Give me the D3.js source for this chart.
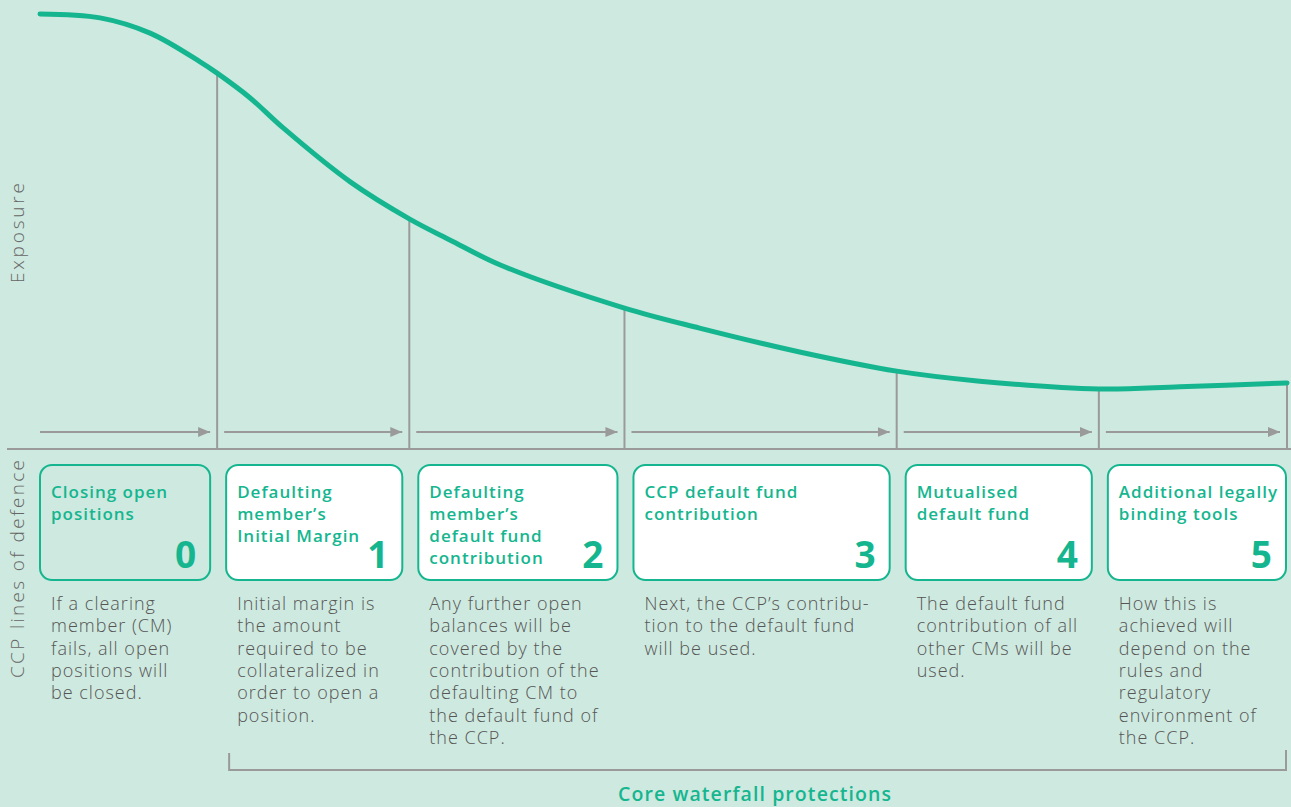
<!DOCTYPE html>
<html>
<head>
<meta charset="utf-8">
<script src="https://cdn.jsdelivr.net/npm/d3@7"></script>
<style>
  body { margin: 0; background: #cee9df; }
  svg { display: block; }
  text { font-family: "Open Sans", sans-serif; }
</style>
</head>
<body>
<svg id="chart" width="1291" height="807"></svg>
<script>
// exposure curve (time units, exposure %)
var curveT = [0, 6.0, 11.0, 16.0, 17.7, 21.0, 24.3, 31.0, 36.9, 41.0, 46.0, 58.4, 65.9, 75.9, 85.6, 93.9, 105.8, 113.9, 124.6];
var curveV = [100, 99.1, 95.6, 89.0, 86.4, 80.7, 73.8, 61.4, 52.9, 48.0, 42.3, 32.4, 27.8, 22.3, 17.9, 15.6, 13.8, 14.3, 15.2];

// each line of defence: start / end (time units) and the exposure at its end
var stageStart = [0, 17.7, 36.9, 58.4, 85.6, 105.8];
var stageEnd   = [17.7, 36.9, 58.4, 85.6, 105.8, 124.6];
var endExposure = [86.4, 52.9, 32.4, 17.9, 13.8, 15.2];

var stageNum = ['0', '1', '2', '3', '4', '5'];
var stageTitle = [
  ['Closing open', 'positions'],
  ['Defaulting', 'member\u2019s', 'Initial Margin'],
  ['Defaulting', 'member\u2019s', 'default fund', 'contribution'],
  ['CCP default fund', 'contribution'],
  ['Mutualised', 'default fund'],
  ['Additional legally', 'binding tools']
];
var stageText = [
  ['If a clearing', 'member (CM)', 'fails, all open', 'positions will', 'be closed.'],
  ['Initial margin is', 'the amount', 'required to be', 'collateralized in', 'order to open a', 'position.'],
  ['Any further open', 'balances will be', 'covered by the', 'contribution of the', 'defaulting CM to', 'the default fund of', 'the CCP.'],
  ['Next, the CCP\u2019s contribu-', 'tion to the default fund', 'will be used.'],
  ['The default fund', 'contribution of all', 'other CMs will be', 'used.'],
  ['How this is', 'achieved will', 'depend on the', 'rules and', 'regulatory', 'environment of', 'the CCP.']
];

var teal = '#15b68f', gray = '#9a9a9a';
var svg = d3.select('#chart');

var x = d3.scaleLinear().domain([0, 125]).range([40, 1291]);
var y = d3.scaleLinear().domain([0, 100]).range([449, 14]);

svg.append('defs').append('marker')
  .attr('id', 'arr').attr('viewBox', '0 0 12 10')
  .attr('refX', 12).attr('refY', 5)
  .attr('markerWidth', 12).attr('markerHeight', 10)
  .attr('markerUnits', 'userSpaceOnUse').attr('orient', 'auto')
  .append('path').attr('d', 'M0,0L12,5L0,10Z').attr('fill', gray);

// baseline
svg.append('line')
  .attr('x1', 7).attr('x2', 1291)
  .attr('y1', y(0)).attr('y2', y(0))
  .attr('stroke', gray).attr('stroke-width', 2);

// vertical drop lines
svg.selectAll('.drop').data(stageEnd).enter().append('line')
  .attr('class', 'drop')
  .attr('x1', function(d) { return x(d); })
  .attr('x2', function(d) { return x(d); })
  .attr('y1', function(d, i) { return y(endExposure[i]); })
  .attr('y2', y(0))
  .attr('stroke', gray).attr('stroke-width', 2);

// arrows
svg.selectAll('.arrow').data(stageStart).enter().append('line')
  .attr('class', 'arrow')
  .attr('x1', function(d, i) { return x(d) + (i ? 7 : 0); })
  .attr('x2', function(d, i) { return x(stageEnd[i]) - 7; })
  .attr('y1', 432).attr('y2', 432)
  .attr('stroke', gray).attr('stroke-width', 2)
  .attr('marker-end', 'url(#arr)');

// exposure curve
var line = d3.line()
  .x(function(d) { return x(d); })
  .y(function(d, i) { return y(curveV[i]); })
  .curve(d3.curveCatmullRom.alpha(0.5));
svg.append('path')
  .attr('d', line(curveT))
  .attr('fill', 'none').attr('stroke', teal)
  .attr('stroke-width', 5).attr('stroke-linecap', 'round');

// boxes
var boxTop = 465, boxH = 115;
function boxL(i) { return x(stageStart[i]) + (i ? 9 : 0); }
function boxW(i) { return x(stageEnd[i]) - (i == 5 ? 1 : 7) - boxL(i); }

var g = svg.selectAll('.stage').data(stageNum).enter().append('g')
  .attr('class', 'stage')
  .attr('transform', function(d, i) { return 'translate(' + boxL(i) + ',0)'; });

g.append('rect')
  .attr('x', 0).attr('y', boxTop)
  .attr('width', function(d, i) { return boxW(i); })
  .attr('height', boxH)
  .attr('rx', 12)
  .attr('fill', function(d, i) { return i ? '#fff' : 'none'; })
  .attr('stroke', teal).attr('stroke-width', 2);

g.each(function(d, i) {
  var t = d3.select(this).append('text')
    .attr('fill', teal).attr('font-size', 17).attr('font-weight', 600)
    .attr('letter-spacing', 1.0);
  stageTitle[i].forEach(function(s, k) {
    t.append('tspan').attr('x', 11).attr('y', 498 + k * 22).text(s);
  });
  var b = d3.select(this).append('text')
    .attr('fill', '#555').attr('font-size', 18).attr('font-weight', 300)
    .attr('letter-spacing', 1.0);
  stageText[i].forEach(function(s, k) {
    b.append('tspan').attr('x', 11).attr('y', 610 + k * 22.3).text(s);
  });
});

g.append('text')
  .attr('x', function(d, i) { return boxW(i) - 14; })
  .attr('y', 568)
  .attr('text-anchor', 'end')
  .attr('fill', teal).attr('font-size', 37).attr('font-weight', 700)
  .text(function(d) { return d; });

// axis labels
svg.append('text')
  .attr('transform', 'translate(24,283) rotate(-90)')
  .attr('textLength', 100).attr('lengthAdjust', 'spacing')
  .attr('fill', '#666').attr('font-size', 19).attr('font-weight', 300)
  .text('Exposure');
svg.append('text')
  .attr('transform', 'translate(24,678) rotate(-90)')
  .attr('textLength', 218).attr('lengthAdjust', 'spacing')
  .attr('fill', '#666').attr('font-size', 19).attr('font-weight', 300)
  .text('CCP lines of defence');

// core waterfall bracket
var bl = x(stageStart[1]) + 12, br = x(stageEnd[5]) - 1;
svg.append('path')
  .attr('d', 'M' + bl + ',753V770H' + br + 'V750')
  .attr('fill', 'none').attr('stroke', gray).attr('stroke-width', 2);
svg.append('text')
  .attr('x', 618).attr('y', 801)
  .attr('textLength', 273).attr('lengthAdjust', 'spacing')
  .attr('fill', teal).attr('font-size', 19.5).attr('font-weight', 600)
  .text('Core waterfall protections');
</script>
</body>
</html>
